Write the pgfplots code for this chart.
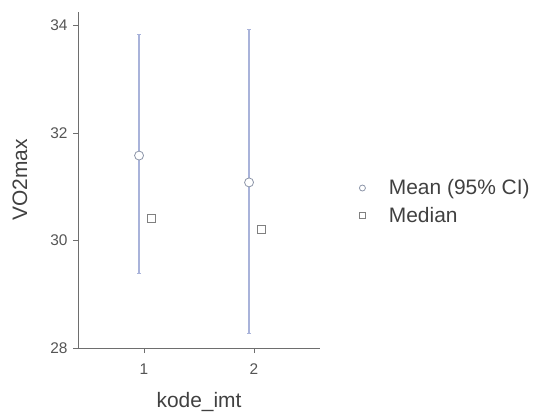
\documentclass[border=0pt]{standalone}
\usepackage{pgfplots}
\usepackage{pgfplotstable}
\pgfplotsset{compat=1.18}
\usepackage{fontspec}
\setmainfont{Liberation Sans}
\definecolor{cibar}{HTML}{A9B3DA}
\definecolor{mk}{HTML}{8C95A8}
\definecolor{axc}{HTML}{6E6E6E}
\definecolor{tlab}{HTML}{555555}
\pgfplotstableread{
x mean plus minus
0.955 31.58 2.25 2.19
1.955 31.08 2.85 2.80
}\meantab
\pgfplotstableread{
x med
1.07 30.41
2.065 30.21
}\medtab
\begin{document}
\begin{tikzpicture}[x=1bp,y=1bp]
\useasboundingbox (0,0) rectangle (535,412);
\begin{axis}[
  at={(78bp,64bp)}, anchor=south west,
  scale only axis, width=242bp, height=336bp,
  xmin=0.4, xmax=2.6, ymin=28, ymax=34.25,
  axis lines*=left,
  axis line style={axc, line width=0.8pt},
  xtick={1,2}, ytick={28,30,32,34},
  tick style={axc, line width=0.8pt},
  tick align=outside, major tick length=5bp,
  tick label style={font=\fontsize{15.5}{17}\selectfont, text=tlab},
  xticklabel style={yshift=-7bp},
  yticklabel style={xshift=-2bp},
  /pgf/number format/assume math mode=true,
  xlabel={kode\_imt}, ylabel={VO2max},
  label style={font=\fontsize{21}{23}\selectfont, text=black!75},
  xlabel style={at={(axis description cs:0.5,-0.1607)}, anchor=center},
  ylabel style={at={(axis description cs:-0.2397,0.5)}, anchor=center},
  legend style={at={(1.16,0.435)}, anchor=west, draw=none, fill=none, inner sep=0pt,
    font=\fontsize{21}{23}\selectfont, text=black!75, row sep=7bp,
    legend cell align=left},
  legend image code/.code={\path (0bp,0bp) -- (28bp,0bp); \draw[#1, mark size=3bp] plot coordinates {(3.5bp,0bp)};},
  clip=false,
]
\addplot[draw=none, mark=*, mark size=4.5bp, mark options={draw=mk, fill=white, line width=0.8pt},
  error bars/.cd, y dir=both, y explicit,
  error bar style={cibar, line width=1.6pt},
  error mark options={rotate=90, mark size=2bp, cibar, line width=0.8pt}]
  table[x=x, y=mean, y error plus=plus, y error minus=minus] {\meantab};
\addlegendentry{Mean (95\% CI)}
\addplot[draw=none, mark=square*, mark size=4bp, mark options={draw=black!50, fill=white, line width=0.8pt}]
  table[x=x, y=med] {\medtab};
\addlegendentry{Median}
\end{axis}
\end{tikzpicture}
\end{document}
